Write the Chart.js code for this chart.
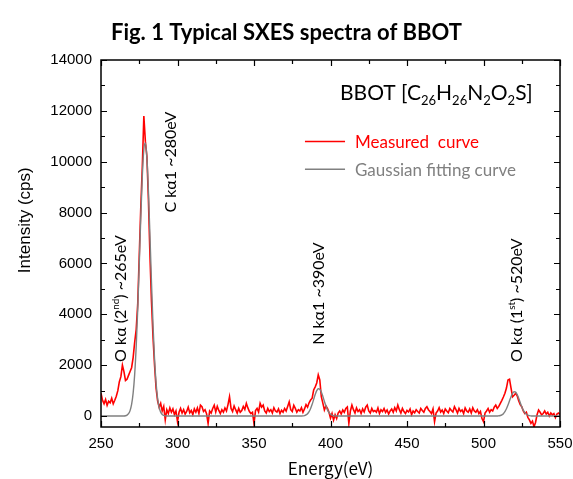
<!DOCTYPE html>
<html>
<head>
<meta charset="utf-8">
<script src="https://cdn.jsdelivr.net/npm/chart.js@4.4.1/dist/chart.umd.min.js"></script>
<style>
  html, body { margin: 0; padding: 0; background: #fff; }
</style>
</head>
<body>
<canvas id="sxesChart" width="573" height="479"></canvas>
<script>
// Measured spectrum, one value per eV from 250 eV up to 550 eV
const measuredStart = 250;
const measured = [
  900, 620, 480, 650, 420, 580, 520, 700, 480, 620,          // 250
  780, 1000, 1350, 1550, 2000, 1750, 1400, 1450, 1600, 1750, // 260
  1900, 2300, 2900, 3400, 4400, 6300, 8200, 9800, 11800, 10800, // 270
  10200, 8500, 6300, 4500, 3100, 2000, 1100, 600, 350, 500,  // 280
  200, 380, -150, 250, 100, 320, 150, 280, 60, 200,          // 290
  -220, 150, 300, 120, 250, 80, 180, 350, 130, 220,          // 300
  60, 280, 150, 320, 100, 430, 370, 180, 250, 90,            // 310
  -290, 200, 120, 300, 430, 160, 380, 220, 100, 250,         // 320
  150, 320, 200, 450, 760, 300, 180, 400, 250, 120,          // 330
  300, 150, 220, 380, 260, 500, 320, 180, 100, 150,          // 340
  -300, 220, 300, 160, 500, 350, 430, 200, 120, 300,         // 350
  180, 250, 120, 330, 200, 160, 280, 100, 230, 150,          // 360
  300, 200, 380, 560, 250, 180, 420, 300, 150, 250,          // 370
  200, 330, 150, 280, 450, 350, 520, 630, 700, 1025,         // 380
  1150, 1300, 1620, 1420, 760, 510, 240, 400, 300, 150,      // 390
  -80, 100, -160, 50, -100, 120, 200, 80, 240, 150,          // 400
  300, 360, -290, 200, 430, 250, 120, 320, 180, 250,         // 410
  100, 280, 160, 350, 430, 200, 120, 300, 180, 220,          // 420
  150, 320, 100, 250, 180, 300, 140, 240, 80, 200,           // 430
  280, 150, 330, 200, 430, 250, 120, 300, 180, 100,          // 440
  220, 160, 280, 50, 200, 130, 250, 180, 120, 300,           // 450
  220, 150, 300, 370, 250, 180, 100, 280, -220, 120,         // 460
  200, 330, 160, 240, 100, 280, 200, 130, 300, 220,          // 470
  160, 370, 250, 120, 300, 180, 240, 100, 320, 200,          // 480
  150, 280, 120, 330, 200, 150, 250, 100, 180, -100,         // 490
  -220, 120, 200, 300, 150, 250, 200, 350, 430, 300,         // 500
  380, 500, 620, 750, 900, 1100, 1420, 1450, 1100, 760,      // 510
  820, 890, 800, 600, 450, 370, 200, 100, 150, -50,          // 520
  -150, -290, -200, -420, -250, 50, 240, 150, 50, 100,       // 530
  200, 80, 150, 0, 120, 50, 100, -60, 80, 120,               // 540
  60                                                         // 550
];

// Gaussian fitting curve (flat at zero between the three peaks)
const fitEnergy = [
  250,
  265, 266, 267, 268, 269, 270, 271, 272, 273, 274, 275, 276, 277, 278,
  279, 280, 281, 282, 283, 284, 285, 286, 287, 288, 289, 290, 291, 292, 293,
  381, 382, 383, 384, 385, 386, 387, 388, 389, 390, 391, 392,
  393, 394, 395, 396, 397, 398, 399, 400, 401, 402, 403, 404,
  509, 510, 511, 512, 513, 514, 515, 516, 517, 518, 519, 520,
  521, 522, 523, 524, 525, 526, 527, 528, 529, 530, 531, 532,
  550
];
const fitIntensity = [
  0,
  5, 12, 37, 92, 213, 456, 900, 1630, 2725, 4200, 5970, 7810, 9430, 10480,
  10740, 10150, 8830, 7080, 5240, 3570, 2240, 1300, 692, 340, 154, 64, 25, 8, 0,
  0, 7, 20, 46, 94, 175, 298, 462, 655, 847, 999, 1076,
  1056, 946, 773, 576, 392, 243, 138, 71, 34, 14, 6, 0,
  0, 10, 23, 49, 95, 172, 285, 431, 599, 763, 892, 956,
  940, 847, 700, 531, 369, 235, 138, 74, 36, 16, 7, 0,
  0
];

const xTicks = [250, 300, 350, 400, 450, 500, 550];
const xMinorTicks = [275, 325, 375, 425, 475, 525];
const yTicks = [0, 2000, 4000, 6000, 8000, 10000, 12000, 14000];
const yMinorTicks = [1000, 3000, 5000, 7000, 9000, 11000, 13000];

// Rotated peak labels: [energy, intensity where the text starts, pieces]
const peakLabels = [
  [263, 2130, [['O kα (2'], ['nd', 'sup'], [') ~265eV']]],
  [295.8, 8000, [['C kα1 ~280eV']]],
  [392.5, 2800, [['N kα1 ~390eV']]],
  [521.9, 2130, [['O kα (1'], ['st', 'sup'], [') ~520eV']]]
];
const formulaLabel = [['BBOT [C'], ['26', 'sub'], ['H'], ['26', 'sub'], ['N'], ['2', 'sub'],
  ['O'], ['2', 'sub'], ['S]']];

const RED = '#ff0000';
const GREY = '#808080';
const LABEL_FONT = 'Lato, "Open Sans", sans-serif';

function drawPieces(ctx, pieces, size, family) {
  let cx = 0;
  pieces.forEach(([text, kind]) => {
    const fs = kind ? size * 0.62 : size;
    const dy = kind === 'sup' ? -size * 0.32 : kind === 'sub' ? size * 0.22 : 0;
    ctx.font = fs + 'px ' + family;
    ctx.fillText(text, cx, dy);
    cx += ctx.measureText(text).width;
  });
}

const decorations = {
  id: 'decorations',
  afterDatasetsDraw(chart) {
    const { ctx, chartArea: a, scales: { x, y } } = chart;
    ctx.save();

    // frame and inward ticks on all four sides
    ctx.strokeStyle = '#000';
    ctx.lineWidth = 1.5;
    ctx.strokeRect(a.left, a.top, a.right - a.left, a.bottom - a.top);
    ctx.lineWidth = 1.2;
    ctx.beginPath();
    const xMarks = xTicks.map(v => [v, 6]).concat(xMinorTicks.map(v => [v, 4]));
    xMarks.forEach(([v, len]) => {
      const px = Math.round(x.getPixelForValue(v)) + 0.5;
      ctx.moveTo(px, a.bottom); ctx.lineTo(px, a.bottom - len);
      ctx.moveTo(px, a.top); ctx.lineTo(px, a.top + len);
    });
    const yMarks = yTicks.map(v => [v, 6]).concat(yMinorTicks.map(v => [v, 4]));
    yMarks.forEach(([v, len]) => {
      const py = Math.round(y.getPixelForValue(v)) + 0.5;
      ctx.moveTo(a.left, py); ctx.lineTo(a.left + len, py);
      ctx.moveTo(a.right, py); ctx.lineTo(a.right - len, py);
    });
    ctx.stroke();

    // y axis title (sits a little above the middle in the original)
    ctx.fillStyle = '#000';
    ctx.textAlign = 'center';
    ctx.textBaseline = 'middle';
    ctx.font = '17px "Liberation Sans", Arial, sans-serif';
    ctx.save();
    ctx.translate(25, y.getPixelForValue(7700));
    ctx.rotate(-Math.PI / 2);
    ctx.fillText('Intensity (cps)', 0, 0);
    ctx.restore();

    // peak labels
    ctx.textAlign = 'left';
    peakLabels.forEach(([e, v, pieces]) => {
      ctx.save();
      ctx.translate(x.getPixelForValue(e), y.getPixelForValue(v));
      ctx.rotate(-Math.PI / 2);
      drawPieces(ctx, pieces, 16, LABEL_FONT);
      ctx.restore();
    });

    // compound formula
    ctx.textBaseline = 'alphabetic';
    ctx.save();
    ctx.translate(x.getPixelForValue(406.2), y.getPixelForValue(12430));
    drawPieces(ctx, formulaLabel, 21, LABEL_FONT);
    ctx.restore();

    // legend
    ctx.textBaseline = 'middle';
    ctx.font = '17px ' + LABEL_FONT;
    chart.data.datasets.forEach((ds, i) => {
      const ly = y.getPixelForValue(i === 0 ? 10800 : 9700);
      ctx.strokeStyle = ds.borderColor;
      ctx.lineWidth = 1.5;
      ctx.beginPath();
      ctx.moveTo(x.getPixelForValue(383.3), ly);
      ctx.lineTo(x.getPixelForValue(409.5), ly);
      ctx.stroke();
      ctx.fillStyle = ds.borderColor;
      ctx.fillText(ds.label, x.getPixelForValue(416), ly + 1);
    });
    ctx.restore();
  }
};

const measuredPoints = measured.map((v, i) => ({ x: measuredStart + i, y: v }));
const fitPoints = fitEnergy.map((e, i) => ({ x: e, y: fitIntensity[i] }));

new Chart(document.getElementById('sxesChart'), {
  type: 'line',
  data: {
    datasets: [
      {
        label: 'Measured  curve',
        data: measuredPoints,
        borderColor: RED,
        borderWidth: 1.6,
        pointRadius: 0,
        tension: 0,
        order: 1
      },
      {
        label: 'Gaussian fitting curve',
        data: fitPoints,
        borderColor: GREY,
        borderWidth: 1.4,
        pointRadius: 0,
        cubicInterpolationMode: 'monotone',
        order: 0
      }
    ]
  },
  options: {
    responsive: false,
    animation: false,
    layout: { padding: 0 },
    plugins: {
      legend: { display: false },
      tooltip: { enabled: false },
      title: {
        display: true,
        text: 'Fig. 1 Typical SXES spectra of BBOT',
        color: '#000',
        font: { family: LABEL_FONT, size: 22, weight: 'bold' },
        padding: { top: 20, bottom: 13.6 }
      }
    },
    scales: {
      x: {
        type: 'linear',
        min: 250,
        max: 550,
        afterBuildTicks: s => { s.ticks = xTicks.map(v => ({ value: v })); },
        afterFit: s => { s.height = 52; s.paddingRight = 13; s.paddingLeft = 0; },
        grid: { display: false, drawTicks: false },
        border: { display: false },
        ticks: {
          color: '#000',
          autoSkip: false,
          maxRotation: 0,
          padding: 8,
          font: { family: '"Liberation Sans", Arial, sans-serif', size: 15 }
        },
        title: {
          display: true,
          text: 'Energy(eV)',
          color: '#000',
          padding: 0,
          font: { family: '"Noto Sans CJK JP", sans-serif', size: 17 }
        }
      },
      y: {
        min: -430,
        max: 14000,
        afterBuildTicks: s => { s.ticks = yTicks.map(v => ({ value: v })); },
        afterFit: s => { s.width = 101; },
        grid: { display: false, drawTicks: false },
        border: { display: false },
        ticks: {
          color: '#000',
          padding: 9,
          callback: v => String(v),
          font: { family: '"Liberation Sans", Arial, sans-serif', size: 15 }
        }
      }
    }
  },
  plugins: [decorations]
});
</script>
</body>
</html>
